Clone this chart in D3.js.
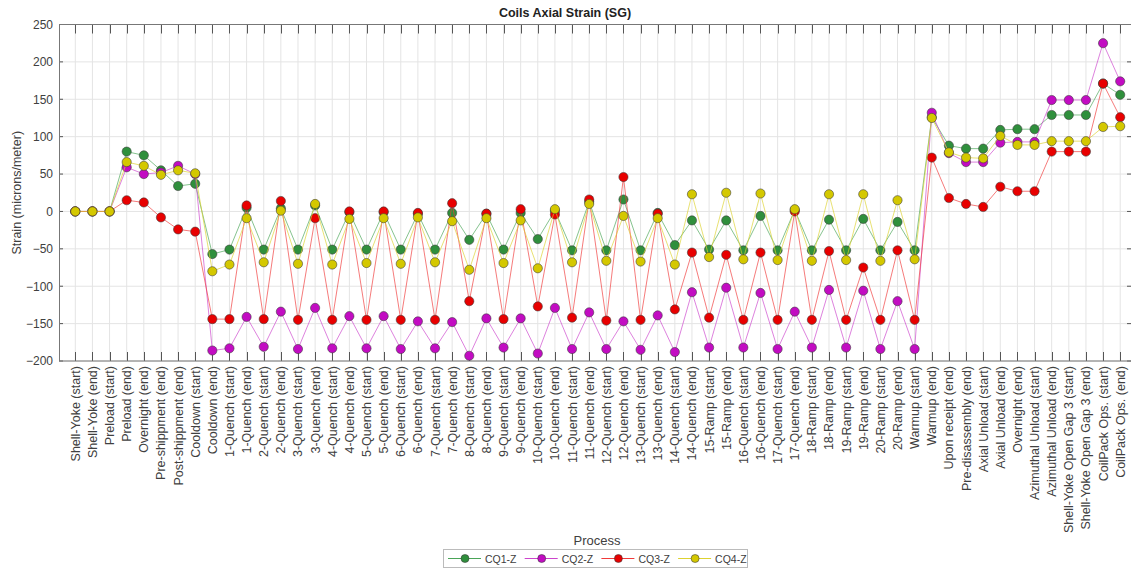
<!DOCTYPE html>
<html>
<head>
<meta charset="utf-8">
<script src="https://cdn.jsdelivr.net/npm/d3@7"></script>
<style>
  body { margin: 0; background: #fff; }
  text { font-family: "Liberation Sans", Arial, sans-serif; }
</style>
</head>
<body>
<div id="chart"></div>
<script>
var categories = [
  "Shell-Yoke (start)", "Shell-Yoke (end)", "Preload (start)", "Preload (end)", "Overnight (end)",
  "Pre-shippment (end)", "Post-shippment (end)", "Cooldown (start)", "Cooldown (end)",
  "1-Quench (start)", "1-Quench (end)", "2-Quench (start)", "2-Quench (end)",
  "3-Quench (start)", "3-Quench (end)", "4-Quench (start)", "4-Quench (end)",
  "5-Quench (start)", "5-Quench (end)", "6-Quench (start)", "6-Quench (end)",
  "7-Quench (start)", "7-Quench (end)", "8-Quench (start)", "8-Quench (end)",
  "9-Quench (start)", "9-Quench (end)", "10-Quench (start)", "10-Quench (end)",
  "11-Quench (start)", "11-Quench (end)", "12-Quench (start)", "12-Quench (end)",
  "13-Quench (start)", "13-Quench (end)", "14-Quench (start)", "14-Quench (end)",
  "15-Ramp (start)", "15-Ramp (end)", "16-Quench (start)", "16-Quench (end)",
  "17-Quench (start)", "17-Quench (end)", "18-Ramp (start)", "18-Ramp (end)",
  "19-Ramp (start)", "19-Ramp (end)", "20-Ramp (start)", "20-Ramp (end)",
  "Warmup (start)", "Warmup (end)", "Upon receipt (end)", "Pre-disassembly (end)",
  "Axial Unload (start)", "Axial Unload (end)", "Overnight (end)",
  "Azimuthal Unload (start)", "Azimuthal Unload (end)",
  "Shell-Yoke Open Gap 3 (start)", "Shell-Yoke Open Gap 3 (end)",
  "CoilPack Ops. (start)", "CoilPack Ops. (end)"
];

var cq1 = [0, 0, 0, 80, 75, 55, 34, 37, -57, -51, 5, -51, 4, -51, 8, -51, -1, -51, -1, -51, -3,
  -51, -2, -38, -3, -51, -2, -37, 1, -52, 13, -52, 16, -52, -2, -45, -12, -51, -12, -52, -6,
  -52, 2, -52, -11, -52, -10, -52, -14, -52, 126, 88, 84, 84, 109, 110, 110, 129, 129, 129, 171, 156];

var cq2 = [0, 0, 0, 59, 50, 52, 61, 50, -186, -183, -141, -181, -134, -184, -129, -183, -140, -183, -140, -184, -147,
  -183, -148, -193, -143, -182, -143, -190, -129, -184, -135, -184, -147, -185, -139, -188, -108, -182, -102, -182, -109,
  -184, -134, -182, -105, -182, -106, -184, -120, -184, 132, 78, 66, 66, 92, 93, 93, 149, 149, 149, 225, 174];

var cq3 = [0, 0, 0, 15, 12, -8, -24, -27, -144, -144, 8, -144, 14, -145, -9, -145, 0, -145, 0, -145, -2,
  -145, 11, -120, -3, -144, 3, -127, -4, -142, 16, -146, 46, -145, -3, -131, -55, -142, -58, -145, -55,
  -145, 0, -145, -53, -145, -75, -145, -52, -145, 72, 18, 10, 6, 33, 27, 27, 80, 80, 80, 171, 126];

var cq4 = [0, 0, 0, 66, 61, 49, 55, 51, -80, -71, -9, -68, 1, -70, 10, -71, -10, -69, -9, -70, -8,
  -68, -13, -78, -9, -69, -12, -76, 3, -68, 10, -66, -6, -67, -9, -71, 23, -61, 25, -64, 24,
  -65, 3, -66, 23, -65, 23, -66, 15, -64, 125, 79, 72, 71, 101, 89, 89, 94, 94, 94, 113, 114];

var seriesNames = ["CQ1-Z", "CQ2-Z", "CQ3-Z", "CQ4-Z"];
var yTicks = [-200, -150, -100, -50, 0, 50, 100, 150, 200, 250];

var colors = {
  "CQ1-Z": {fill: "#2f8f3c", line: "#4aa558"},
  "CQ2-Z": {fill: "#c20cc2", line: "#cc44cc"},
  "CQ3-Z": {fill: "#e80000", line: "#f03a3a"},
  "CQ4-Z": {fill: "#d4c800", line: "#ddd230"}
};

(function () {
  var W = 1131, H = 569;
  var pLeft = 59, pRight = 1131, pTop = 24.5, pBottom = 361;

  var svg = d3.select("#chart").append("svg")
    .attr("width", W)
    .attr("height", H);

  var x = d3.scaleLinear()
    .domain([1, categories.length])
    .range([75.3, 1120.2]);

  var y = d3.scaleLinear()
    .domain([-200, 250])
    .range([pBottom, pTop]);

  // grid
  svg.append("g").selectAll("line")
    .data(categories)
    .enter().append("line")
    .attr("x1", (d, i) => x(i + 1)).attr("x2", (d, i) => x(i + 1))
    .attr("y1", pTop).attr("y2", pBottom)
    .attr("stroke", "#e4e4e4").attr("stroke-width", 1);

  svg.append("g").selectAll("line")
    .data(yTicks)
    .enter().append("line")
    .attr("x1", pLeft).attr("x2", pRight)
    .attr("y1", d => y(d)).attr("y2", d => y(d))
    .attr("stroke", "#e4e4e4").attr("stroke-width", 1);

  // axes
  var yAxis = svg.append("g")
    .attr("transform", "translate(" + pLeft + ",0)")
    .call(d3.axisLeft(y).tickValues(yTicks).tickSize(0).tickPadding(6));
  yAxis.select(".domain").remove();
  yAxis.selectAll("text")
    .attr("font-size", 12)
    .attr("fill", "#404040");

  var xAxis = svg.append("g")
    .attr("transform", "translate(0," + pBottom + ")")
    .call(d3.axisBottom(x).tickValues(d3.range(1, categories.length + 1))
      .tickFormat(d => categories[d - 1]).tickSize(0));
  xAxis.select(".domain").remove();
  xAxis.selectAll("text")
    .attr("font-size", 12.5)
    .attr("fill", "#404040")
    .attr("text-anchor", "end")
    .attr("dy", "0.32em")
    .attr("transform", "translate(0,5) rotate(-90)")
    .attr("x", 0)
    .attr("y", 0);

  // inward tick marks
  var tk = svg.append("g").attr("stroke", "#555").attr("stroke-width", 1);
  categories.forEach(function (c, i) {
    var px = Math.round(x(i + 1)) + 0.5;
    tk.append("line").attr("x1", px).attr("x2", px).attr("y1", pBottom).attr("y2", pBottom - 9);
    tk.append("line").attr("x1", px).attr("x2", px).attr("y1", pTop).attr("y2", pTop + 9);
  });
  yTicks.forEach(function (v) {
    tk.append("line").attr("x1", pLeft).attr("x2", pLeft + 4).attr("y1", y(v)).attr("y2", y(v));
    tk.append("line").attr("x1", pRight - 4).attr("x2", pRight).attr("y1", y(v)).attr("y2", y(v));
  });

  // box
  svg.append("rect")
    .attr("x", pLeft + 0.5).attr("y", pTop)
    .attr("width", pRight - pLeft).attr("height", pBottom - pTop)
    .attr("fill", "none").attr("stroke", "#777").attr("stroke-width", 1);

  // series
  var data = [cq1, cq2, cq3, cq4];
  var line = d3.line()
    .x((d, i) => x(i + 1))
    .y(d => y(d));

  data.forEach(function (vals, s) {
    var c = colors[seriesNames[s]];
    var g = svg.append("g");
    g.append("path")
      .datum(vals)
      .attr("d", line)
      .attr("fill", "none")
      .attr("stroke", c.line)
      .attr("stroke-opacity", 0.75)
      .attr("stroke-width", 0.9);
    g.selectAll("circle")
      .data(vals)
      .enter().append("circle")
      .attr("cx", (d, i) => x(i + 1))
      .attr("cy", d => y(d))
      .attr("r", 4.6)
      .attr("fill", c.fill)
      .attr("stroke", "#3a3a3a")
      .attr("stroke-opacity", 0.7)
      .attr("stroke-width", 0.8);
  });

  // labels
  svg.append("text")
    .attr("x", 565).attr("y", 17)
    .attr("text-anchor", "middle")
    .attr("font-size", 12.5)
    .attr("font-weight", "bold")
    .attr("fill", "#222")
    .text("Coils Axial Strain (SG)");

  svg.append("text")
    .attr("text-anchor", "middle")
    .attr("transform", "translate(21," + ((pTop + pBottom) / 2) + ") rotate(-90)")
    .attr("font-size", 12.5)
    .attr("fill", "#404040")
    .text("Strain (microns/meter)");

  svg.append("text")
    .attr("x", 597).attr("y", 545)
    .attr("text-anchor", "middle")
    .attr("font-size", 13)
    .attr("fill", "#404040")
    .text("Process");

  // legend
  var lg = svg.append("g");
  lg.append("rect")
    .attr("x", 443.5).attr("y", 549.5)
    .attr("width", 304).attr("height", 18)
    .attr("fill", "#fff").attr("stroke", "#bbb");
  seriesNames.forEach(function (name, i) {
    var cx = 465 + i * 76.7, cy = 558.5;
    var c = colors[name];
    lg.append("line")
      .attr("x1", cx - 17).attr("x2", cx + 16)
      .attr("y1", cy).attr("y2", cy)
      .attr("stroke", c.line).attr("stroke-width", 1);
    lg.append("circle")
      .attr("cx", cx).attr("cy", cy).attr("r", 4)
      .attr("fill", c.fill).attr("stroke", "#3a3a3a").attr("stroke-opacity", 0.7).attr("stroke-width", 0.8);
    lg.append("text")
      .attr("x", cx + 20).attr("y", cy + 4)
      .attr("font-size", 10.5)
      .attr("fill", "#404040")
      .text(name);
  });
})();
</script>
</body>
</html>
